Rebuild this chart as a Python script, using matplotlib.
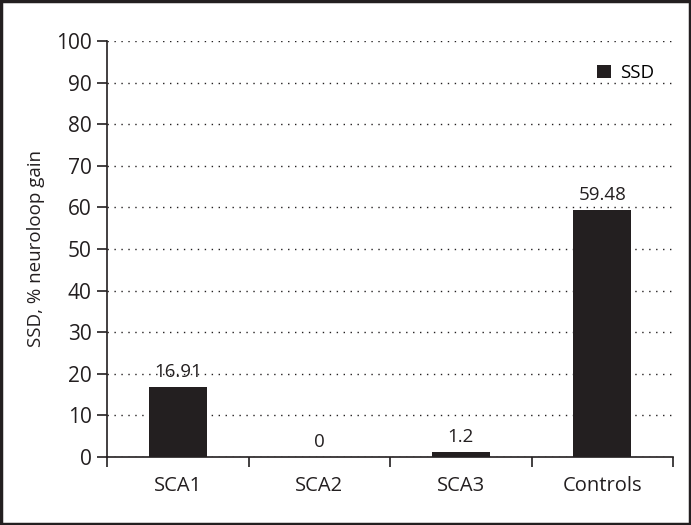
import matplotlib
matplotlib.use('Agg')
import matplotlib.pyplot as plt
from matplotlib.patches import Rectangle

# data
groups = ['SCA1', 'SCA2', 'SCA3', 'Controls']
ssd_values = [16.91, 0, 1.2, 59.48]
value_labels = ['16.91', '0', '1.2', '59.48']

plt.rcParams['font.family'] = ['Open Sans', 'DejaVu Sans']

fig = plt.figure(figsize=(6.91, 5.25), dpi=100)
ax = fig.add_axes([0.155, 0.1295, 0.819, 0.7925])

x = list(range(len(groups)))
bars = ax.bar(x, ssd_values, width=0.41, color='#231f20', label='SSD', zorder=3)

# value labels above the bars
for xi, v, lab in zip(x, ssd_values, value_labels):
    ax.annotate(lab, (xi, v), xytext=(0, 4), textcoords='offset points',
                ha='center', va='bottom', fontsize=13.5, color='#231f20', zorder=4)

ax.set_xlim(-0.5, len(groups) - 0.5)
ax.set_ylim(0, 100)
ax.set_yticks(range(0, 101, 10))
ax.yaxis.grid(True, linestyle=(0, (1, 4)), color='#231f20', linewidth=1, zorder=0)

# category boundaries get tick marks, names sit between them
ax.set_xticks([i - 0.5 for i in range(len(groups) + 1)])
ax.set_xticklabels([])
ax.set_xticks(x, minor=True)
ax.set_xticklabels(groups, minor=True, fontsize=14.5, color='#231f20')
ax.tick_params(axis='x', which='minor', length=0, pad=14)
ax.tick_params(axis='x', which='major', length=7, width=1.2, color='#231f20')
ax.tick_params(axis='y', length=7, width=1.2, color='#231f20', labelsize=15,
               labelcolor='#231f20', pad=4)

for side in ['top', 'right']:
    ax.spines[side].set_visible(False)
for side in ['left', 'bottom']:
    ax.spines[side].set_linewidth(1.2)
    ax.spines[side].set_color('#231f20')

ax.set_ylabel('SSD, % neuroloop gain', fontsize=13.5, color='#231f20', labelpad=8)

ax.legend(loc='upper right', frameon=False, fontsize=13.5, handlelength=0.75,
          handleheight=0.75, handletextpad=0.5, bbox_to_anchor=(0.997, 0.985))

# frame around the whole figure
fig.patches.append(Rectangle((0.002, 0.002), 0.996, 0.996, transform=fig.transFigure,
                             fill=False, edgecolor='#231f20', linewidth=2.5))

fig.savefig('out.png', dpi=100)
